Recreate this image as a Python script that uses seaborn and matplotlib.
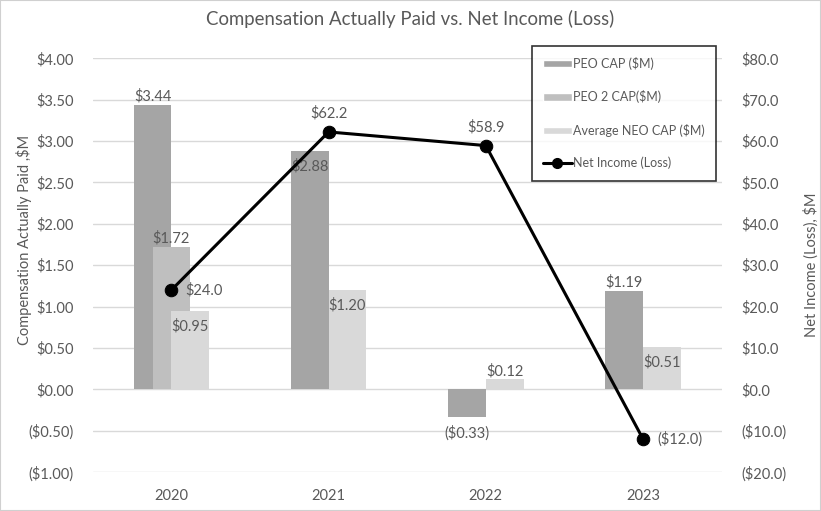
import numpy as np
import pandas as pd
import matplotlib
matplotlib.use('Agg')
import matplotlib.pyplot as plt
import seaborn as sns
from matplotlib.patches import Patch, Rectangle
from matplotlib.lines import Line2D
from matplotlib.ticker import FuncFormatter

# Data
years = ['2020', '2021', '2022', '2023']
peo_cap = [3.44, 2.88, -0.33, 1.19]
peo2_cap = [1.72, np.nan, np.nan, np.nan]
neo_cap = [0.95, 1.20, 0.12, 0.51]
net_income = [24.0, 62.2, 58.9, -12.0]

# where each bar label sits relative to its bar
peo_pos = ['above', 'inside', 'below', 'above']
peo2_pos = ['above', None, None, None]
neo_pos = ['inside', 'inside', 'above', 'inside']
ni_pos = ['right', 'above', 'above', 'right']

TEXT = '#595959'
GRID = '#d9d9d9'
COLORS = {'PEO CAP ($M)': '#a5a5a5', 'PEO 2 CAP($M)': '#bfbfbf',
          'Average NEO CAP ($M)': '#d9d9d9'}

sns.set_style('white')
plt.rcParams['font.family'] = ['Lato', 'DejaVu Sans']
plt.rcParams['text.color'] = TEXT
plt.rcParams['axes.labelcolor'] = TEXT
plt.rcParams['xtick.color'] = TEXT
plt.rcParams['ytick.color'] = TEXT

fig = plt.figure(figsize=(8.21, 5.11), dpi=100)
fig.patches.append(Rectangle((0, 0), 1, 1, transform=fig.transFigure,
                             fill=False, edgecolor='#d0d0d0', lw=1.5))
ax = fig.add_axes([0.113, 0.076, 0.766, 0.81])

idx = np.arange(len(years))
series = [('PEO CAP ($M)', peo_cap, -0.12, peo_pos),
          ('PEO 2 CAP($M)', peo2_cap, 0.0, peo2_pos),
          ('Average NEO CAP ($M)', neo_cap, 0.12, neo_pos)]

for name, vals, off, pos in series:
    df = pd.DataFrame({'x': idx + off, 'y': vals}).dropna()
    sns.barplot(data=df, x='x', y='y', native_scale=True, width=0.24,
                color=COLORS[name], saturation=1, linewidth=0,
                edgecolor='none', ax=ax, zorder=2)
    for xi, v, p in zip(idx + off, vals, pos):
        if p is None or np.isnan(v):
            continue
        txt = f'${v:.2f}' if v >= 0 else f'(${-v:.2f})'
        if p == 'above':
            ax.annotate(txt, (xi, v), xytext=(0, 1), textcoords='offset points',
                        ha='center', va='bottom', fontsize=10.5, zorder=5)
        else:
            ax.annotate(txt, (xi, v), xytext=(0, -6), textcoords='offset points',
                        ha='center', va='top', fontsize=10.5, zorder=5)

ax.set_xlim(-0.5, 3.5)
ax.set_ylim(-1, 4)
ax.set_yticks(np.arange(-1, 4.01, 0.5))
ax.yaxis.set_major_formatter(FuncFormatter(
    lambda v, _: f'${v:.2f}' if v >= 0 else f'(${-v:.2f})'))
ax.set_xticks(idx)
ax.set_xticklabels(years)
ax.grid(axis='y', color=GRID, lw=1, zorder=0)
ax.set_axisbelow(True)
for s in ax.spines.values():
    s.set_visible(False)
ax.tick_params(axis='both', length=0, labelsize=10.5)
ax.tick_params(axis='x', pad=12)
ax.tick_params(axis='y', pad=14)
ax.set_xlabel('')
ax.set_ylabel('Compensation Actually Paid ,$M', fontsize=10.5)
ax.yaxis.set_label_coords(-0.097, 0.56)

ax2 = ax.twinx()
sns.lineplot(x=idx, y=net_income, ax=ax2, color='black', lw=2.2,
             marker='o', markersize=9, markeredgecolor='black', zorder=4)
ax2.set_ylim(-20, 80)
ax2.set_yticks(np.arange(-20, 80.1, 10))
ax2.yaxis.set_major_formatter(FuncFormatter(
    lambda v, _: f'${v:.1f}' if v >= 0 else f'(${-v:.1f})'))
for s in ax2.spines.values():
    s.set_visible(False)
ax2.tick_params(axis='y', length=0, labelsize=10.5, pad=14)
ax2.set_ylabel('Net Income (Loss), $M', fontsize=10.5)
ax2.yaxis.set_label_coords(1.130, 0.5)

for xi, v, p in zip(idx, net_income, ni_pos):
    txt = f'${v:.1f}' if v >= 0 else f'(${-v:.1f})'
    if p == 'right':
        ax2.annotate(txt, (xi, v), xytext=(10, 0), textcoords='offset points',
                     ha='left', va='center', fontsize=10.5)
    else:
        ax2.annotate(txt, (xi, v), xytext=(0, 8), textcoords='offset points',
                     ha='center', va='bottom', fontsize=10.5)

fig.suptitle('Compensation Actually Paid vs. Net Income (Loss)',
             fontsize=13.4, color=TEXT, y=0.98)

handles = [Patch(facecolor=COLORS[n]) for n, *_ in series]
handles.append(Line2D([0], [0], color='black', lw=2.2, marker='o', markersize=7))
labels = [n for n, *_ in series] + ['Net Income (Loss)']
leg = ax2.legend(handles, labels, loc='upper right', bbox_to_anchor=(1.001, 1.045),
                 fontsize=9, frameon=True, fancybox=False, edgecolor='black',
                 handlelength=2.3, handleheight=0.5, labelspacing=1.62,
                 borderpad=0.9, handletextpad=0.1, labelcolor=TEXT)
leg.get_frame().set_linewidth(1.2)

plt.savefig('out.png', dpi=100)
